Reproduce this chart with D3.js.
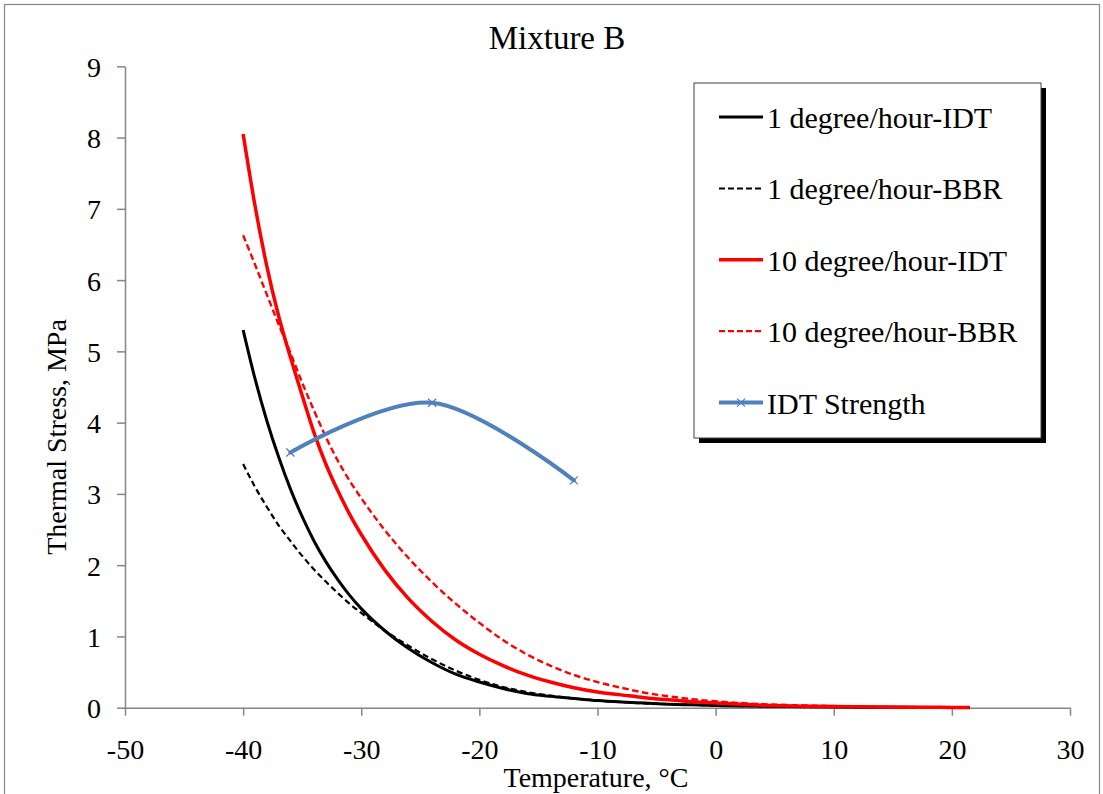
<!DOCTYPE html>
<html>
<head>
<meta charset="utf-8">
<script src="https://cdn.jsdelivr.net/npm/d3@7"></script>
<style>
  html, body { margin: 0; padding: 0; background: #fff; }
  svg { display: block; }
  text { font-family: "Liberation Serif", "Times New Roman", serif; fill: #000; }
</style>
</head>
<body>
<svg id="chart" width="1103" height="794"></svg>
<script>
// ---- data ----
const chartTitle = "Mixture B";
const xTitle = "Temperature, °C";
const yTitle = "Thermal Stress, MPa";
const xTicks = [-50, -40, -30, -20, -10, 0, 10, 20, 30];
const yTicks = [0, 1, 2, 3, 4, 5, 6, 7, 8, 9];

const temps = [-40,-39,-38,-37,-36,-35,-34,-33,-32,-31,-30,-28,-26,-24,-22,-20,-18,-16,-14,-12,-10,-8,-6,-4,-2,0,4,8,12,16,20,21.5];
const idt1 = [5.30,4.62,4.03,3.52,3.07,2.68,2.34,2.05,1.80,1.58,1.39,1.08,0.83,0.63,0.47,0.36,0.27,0.20,0.16,0.13,0.10,0.08,0.065,0.05,0.04,0.03,0.02,0.012,0.008,0.005,0.003,0.002];
const bbr1 = [3.42,3.10,2.82,2.56,2.34,2.13,1.94,1.77,1.61,1.46,1.33,1.08,0.87,0.68,0.52,0.39,0.29,0.22,0.17,0.13,0.10,0.08,0.06,0.05,0.04,0.03,0.02,0.012,0.008,0.005,0.003,0.002];
const idt10 = [8.05,7.05,6.20,5.50,4.92,4.38,3.86,3.42,3.05,2.72,2.43,1.93,1.53,1.21,0.95,0.75,0.59,0.46,0.36,0.28,0.22,0.18,0.14,0.11,0.085,0.065,0.035,0.02,0.012,0.007,0.004,0.003];
const bbr10 = [6.63,6.22,5.80,5.38,4.98,4.56,4.17,3.80,3.47,3.19,2.94,2.49,2.10,1.76,1.46,1.19,0.95,0.75,0.59,0.46,0.36,0.28,0.21,0.16,0.12,0.09,0.05,0.03,0.017,0.01,0.006,0.005];

const strengthTemps = [-36, -24, -12];
const strength = [3.58, 4.28, 3.19];

const seriesNames = ["1 degree/hour-IDT", "1 degree/hour-BBR", "10 degree/hour-IDT", "10 degree/hour-BBR", "IDT Strength"];

// ---- layout ----
const svg = d3.select("#chart");
const plot = { left: 125, right: 1070, top: 66.3, bottom: 707.7 };
const axisColor = "#868686";

svg.append("rect").attr("x", 4.5).attr("y", 4.5).attr("width", 1095).attr("height", 795)
  .attr("fill", "#fff").attr("stroke", axisColor).attr("stroke-width", 1.2);

const x = d3.scaleLinear().domain([-50, 30]).range([plot.left, plot.right]);
const y = d3.scaleLinear().domain([0, 9]).range([plot.bottom, plot.top]);

// axes
const yAxis = d3.axisLeft(y).tickValues(yTicks).tickSize(8).tickSizeOuter(0).tickPadding(16).tickFormat(d3.format("d"));
const xAxis = d3.axisBottom(x).tickValues(xTicks).tickSize(8).tickSizeOuter(0).tickPadding(23).tickFormat(d => d < 0 ? "-" + Math.abs(d) : String(d));

const gy = svg.append("g").attr("transform", `translate(${plot.left},0)`).call(yAxis);
const gx = svg.append("g").attr("transform", `translate(0,${plot.bottom})`).call(xAxis);
[gx, gy].forEach(g => {
  g.select(".domain").attr("stroke", axisColor).attr("stroke-width", 1.5);
  g.selectAll(".tick line").attr("stroke", axisColor).attr("stroke-width", 1.5);
  g.selectAll(".tick text").attr("font-family", "'Liberation Serif', 'Times New Roman', serif")
    .attr("font-size", 28).attr("fill", "#000");
});
gy.selectAll(".tick text").attr("dy", "0.36em");

// titles
svg.append("text").attr("x", 557).attr("y", 49).attr("text-anchor", "middle")
  .attr("font-size", 33).text(chartTitle);
svg.append("text").attr("x", 596).attr("y", 787).attr("text-anchor", "middle")
  .attr("font-size", 28).text(xTitle);
svg.append("text").attr("transform", "translate(66,437) rotate(-90)").attr("text-anchor", "middle")
  .attr("font-size", 28).text(yTitle);

// lines
const pts = vals => temps.map((t, i) => [t, vals[i]]);
const lineGen = d3.line().x(d => x(d[0])).y(d => y(d[1])).curve(d3.curveMonotoneX);
const styles = [
  { data: pts(idt1), color: "#000", width: 3, dash: null },
  { data: pts(bbr1), color: "#000", width: 2.2, dash: "6,3.5" },
  { data: pts(idt10), color: "#ff0000", width: 3.5, dash: null },
  { data: pts(bbr10), color: "#ff0000", width: 2.4, dash: "6.5,3.5" }
];
const gLines = svg.append("g");
styles.forEach(s => {
  gLines.append("path").datum(s.data).attr("d", lineGen)
    .attr("fill", "none").attr("stroke", s.color).attr("stroke-width", s.width)
    .attr("stroke-dasharray", s.dash).attr("stroke-linejoin", "round");
});

// IDT strength (smoothed)
const strengthPts = strengthTemps.map((t, i) => [t, strength[i]]);
const smooth = d3.line().x(d => x(d[0])).y(d => y(d[1])).curve(d3.curveCardinal.tension(0));
const blue = "#4f81bd";
svg.append("path").datum(strengthPts).attr("d", smooth)
  .attr("fill", "none").attr("stroke", blue).attr("stroke-width", 4).attr("stroke-linecap", "round");
const mk = 4;
svg.append("g").selectAll("path.mk").data(strengthPts).join("path")
  .attr("d", d => { const cx = x(d[0]), cy = y(d[1]);
    return `M${cx-mk},${cy-mk}L${cx+mk},${cy+mk}M${cx-mk},${cy+mk}L${cx+mk},${cy-mk}`; })
  .attr("stroke", blue).attr("stroke-width", 1.3).attr("fill", "none");

// legend
const lg = { x: 694, y: 83, w: 347, h: 355 };
svg.append("rect").attr("x", lg.x + 5).attr("y", lg.y + 5).attr("width", lg.w).attr("height", lg.h).attr("fill", "#000");
svg.append("rect").attr("x", lg.x).attr("y", lg.y).attr("width", lg.w).attr("height", lg.h)
  .attr("fill", "#fff").attr("stroke", "#404040").attr("stroke-width", 1);
const legendStyles = [
  { color: "#000", width: 3, dash: null },
  { color: "#000", width: 2, dash: "6,3" },
  { color: "#ff0000", width: 3.5, dash: null },
  { color: "#ff0000", width: 2.2, dash: "6,3" },
  { color: blue, width: 4, dash: null, marker: true }
];
seriesNames.forEach((name, i) => {
  const ly = 117 + i * 71.4;
  const s = legendStyles[i];
  svg.append("line").attr("x1", 719).attr("x2", 763).attr("y1", ly).attr("y2", ly)
    .attr("stroke", s.color).attr("stroke-width", s.width).attr("stroke-dasharray", s.dash);
  if (s.marker) {
    const cx = 741;
    svg.append("path").attr("d", `M${cx-mk},${ly-mk}L${cx+mk},${ly+mk}M${cx-mk},${ly+mk}L${cx+mk},${ly-mk}`)
      .attr("stroke", blue).attr("stroke-width", 1.3);
  }
  svg.append("text").attr("x", 767).attr("y", ly + 11).attr("font-size", 30).text(name);
});
</script>
</body>
</html>
